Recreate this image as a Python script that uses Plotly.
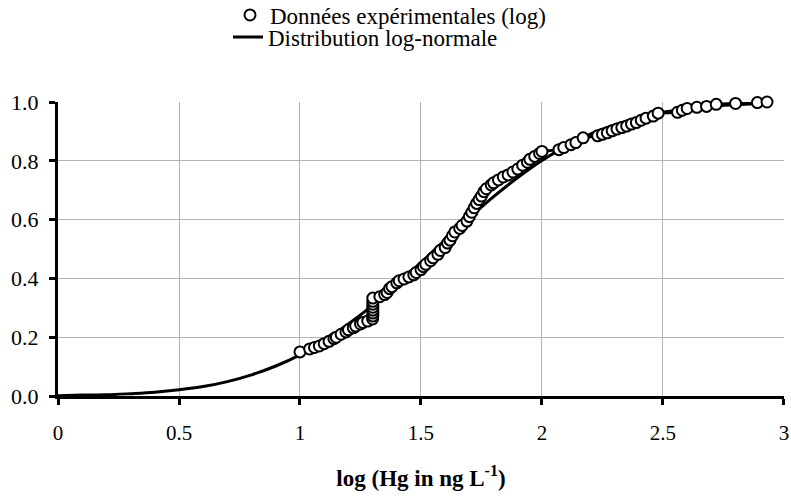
import plotly.graph_objects as go

# Empirical data (log Hg, cumulative frequency)
exp_x = [1.00, 1.04, 1.06, 1.08, 1.10, 1.12, 1.14, 1.15, 1.17, 1.19, 1.20, 1.22, 1.23, 1.25, 1.26, 1.28,
         1.30, 1.301, 1.301, 1.301, 1.301, 1.301, 1.301, 1.301, 1.33, 1.35, 1.36, 1.37, 1.38, 1.40, 1.41,
         1.43, 1.45, 1.47, 1.48, 1.50, 1.51, 1.52, 1.54, 1.55, 1.57, 1.58, 1.60, 1.61, 1.62, 1.63, 1.64,
         1.66, 1.67, 1.69, 1.70, 1.71, 1.72, 1.73, 1.74, 1.75, 1.76, 1.77, 1.79, 1.80, 1.82, 1.84, 1.86,
         1.88, 1.90, 1.92, 1.94, 1.95, 1.97, 1.99, 2.00, 2.07, 2.09, 2.12, 2.14, 2.17, 2.23, 2.25, 2.27,
         2.29, 2.31, 2.33, 2.35, 2.37, 2.39, 2.41, 2.43, 2.46, 2.48, 2.56, 2.58, 2.60, 2.64, 2.68, 2.72,
         2.80, 2.89, 2.93]
exp_y = [0.150, 0.160, 0.165, 0.170, 0.178, 0.186, 0.195, 0.200, 0.210, 0.218, 0.225, 0.232, 0.238, 0.245,
         0.250, 0.255, 0.262, 0.272, 0.282, 0.292, 0.302, 0.312, 0.322, 0.333, 0.338, 0.345, 0.352, 0.365,
         0.372, 0.385, 0.392, 0.398, 0.405, 0.412, 0.420, 0.430, 0.440, 0.448, 0.460, 0.470, 0.482, 0.495,
         0.505, 0.520, 0.530, 0.545, 0.558, 0.570, 0.580, 0.595, 0.610, 0.625, 0.640, 0.655, 0.668, 0.680,
         0.695, 0.705, 0.718, 0.725, 0.735, 0.745, 0.752, 0.762, 0.772, 0.785, 0.795, 0.805, 0.815, 0.825,
         0.832, 0.838, 0.845, 0.855, 0.862, 0.878, 0.885, 0.890, 0.895, 0.902, 0.908, 0.913, 0.918, 0.925,
         0.930, 0.938, 0.945, 0.952, 0.962, 0.965, 0.972, 0.978, 0.982, 0.985, 0.992, 0.995, 0.998, 1.000]

# Fitted log-normal distribution curve
fit_x = [0.0, 0.1, 0.2, 0.3, 0.4, 0.5, 0.6, 0.7, 0.8, 0.9, 1.0, 1.1, 1.2, 1.3, 1.4, 1.5, 1.6, 1.7,
         1.8, 1.9, 2.0, 2.1, 2.2, 2.3, 2.4, 2.5, 2.6, 2.7, 2.8, 2.9]
fit_y = [0.001, 0.003, 0.004, 0.008, 0.013, 0.021, 0.032, 0.049, 0.072, 0.102, 0.140, 0.189, 0.245,
         0.308, 0.379, 0.454, 0.531, 0.606, 0.678, 0.743, 0.801, 0.850, 0.891, 0.922, 0.947, 0.965,
         0.977, 0.986, 0.991, 0.995]

x_ticks = [0, 0.5, 1, 1.5, 2, 2.5, 3]
x_tick_labels = ["0", "0.5", "1", "1.5", "2", "2.5", "3"]
y_ticks = [0.0, 0.2, 0.4, 0.6, 0.8, 1.0]
y_tick_labels = ["0.0", "0.2", "0.4", "0.6", "0.8", "1.0"]

FONT = '"Liberation Serif", "Times New Roman", Times, serif'
W, H = 791, 497

fig = go.Figure()
# connecting line of the empirical data (no legend)
fig.add_trace(go.Scatter(
    x=exp_x, y=exp_y, mode="lines", name="Données expérimentales (log)",
    line=dict(color="black", width=3), cliponaxis=False, showlegend=False,
))
fig.add_trace(go.Scatter(
    x=fit_x, y=fit_y, mode="lines", name="Distribution log-normale",
    line=dict(color="black", width=3, shape="spline"),
    showlegend=True, legend="legend2",
))
fig.add_trace(go.Scatter(
    x=exp_x, y=exp_y, mode="markers", name="Données expérimentales (log)",
    marker=dict(symbol="circle", size=11, color="white", line=dict(color="black", width=2)),
    cliponaxis=False, showlegend=True, legend="legend",
))

legend_common = dict(
    xref="container", yref="container", xanchor="left", yanchor="middle",
    font=dict(family=FONT, size=23, color="black"),
    bgcolor="rgba(0,0,0,0)", borderwidth=0,
)

fig.update_layout(
    width=W, height=H,
    margin=dict(l=58, r=7, t=102, b=101, autoexpand=False),
    paper_bgcolor="white", plot_bgcolor="white",
    font=dict(family=FONT, size=21, color="black"),
    legend=dict(x=230 / W, y=1 - 15 / H, **legend_common),
    legend2=dict(x=228 / W, y=1 - 37 / H, **legend_common),
    xaxis=dict(
        range=[0, 3.0001], tickvals=x_ticks, ticktext=x_tick_labels,
        showgrid=True, gridcolor="#b4b4b4", gridwidth=1,
        showline=True, linecolor="black", linewidth=3,
        ticks="outside", tickcolor="black", tickwidth=3, ticklen=6,
        zeroline=False, ticklabelstandoff=10, ticklabeloverflow="allow",
        title=dict(text="<b>log (Hg in ng L<sup>-1</sup>)</b>", font=dict(family=FONT, size=23), standoff=26),
    ),
    yaxis=dict(
        range=[0, 1], tickvals=y_ticks, ticktext=y_tick_labels,
        tickfont=dict(family=FONT, size=22),
        showgrid=True, gridcolor="#b4b4b4", gridwidth=1,
        showline=True, linecolor="black", linewidth=3,
        ticks="outside", tickcolor="black", tickwidth=3, ticklen=6,
        zeroline=False, ticklabelstandoff=6,
    ),
)

# remove the default 8px page margin so the figure fills the window exactly
fig.write_html("out.html", config={"displayModeBar": False},
               post_script="document.body.style.margin='0px';document.body.style.overflow='hidden';")
